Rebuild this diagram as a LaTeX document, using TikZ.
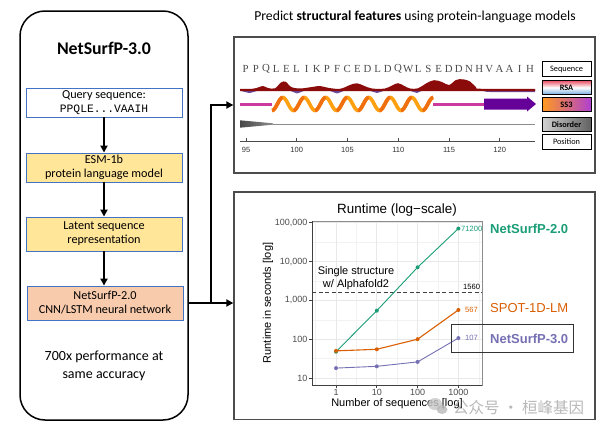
\documentclass[tikz,border=0pt]{standalone}
\usepackage{fontspec}
\setmainfont{Carlito}
\newfontfamily\arialf{Liberation Sans}
\newfontfamily\timesf{Liberation Serif}
\newfontfamily\monof{Liberation Mono}
\newfontfamily\cjkf{Noto Sans CJK SC}
\usetikzlibrary{arrows.meta}

\definecolor{boxblue}{HTML}{4472C4}
\definecolor{yell}{HTML}{FFE699}
\definecolor{salmon}{HTML}{F8CBAD}
\definecolor{cgreen}{HTML}{1B9E77}
\definecolor{corange}{HTML}{D95F02}
\definecolor{cpurple}{HTML}{7570B3}
\definecolor{rsared}{HTML}{8B0A0A}
\definecolor{rsapurp}{HTML}{6A4C9C}
\definecolor{magen}{HTML}{CC3A9E}
\definecolor{helixA}{HTML}{FFA010}
\definecolor{helixB}{HTML}{F07010}
\definecolor{strand}{HTML}{650099}
\definecolor{rsaTop}{HTML}{E8485E}
\definecolor{rsaBot}{HTML}{6FA8DC}
\definecolor{ssL}{HTML}{FF9A1F}
\definecolor{ssR}{HTML}{B040D0}

\begin{document}
\begin{tikzpicture}[x=1pt,y=-1pt,
  declare function={px(\e)=336+40.8*\e; py(\e)=416.8-38.8*\e; hy(\t)=104+6.5*cos(16.74419*(\t-272));},
  flowbox/.style={draw=boxblue, line width=0.9pt, minimum width=156pt, inner sep=0pt, align=center, font=\fontsize{12.2}{14}\selectfont},
  flowarrow/.style={line width=2pt, -{Triangle[length=7pt,width=7pt]}},
  connector/.style={line width=2pt, line cap=rect},
  conarrow/.style={line width=2pt, -{Triangle[length=7pt,width=7pt]}},
  panel/.style={draw=black!70, line width=1.3pt, inner sep=0pt},
  legbox/.style={draw=black, line width=0.8pt, minimum width=49pt, minimum height=14.5pt, inner sep=0pt, font=\fontsize{8.3}{9}\selectfont},
  seqlet/.style={font=\timesf\fontsize{10.8}{12}\selectfont, text=black!70, inner sep=0pt},
  poslab/.style={font=\arialf\fontsize{7.5}{8}\selectfont, text=black!80, inner sep=0pt},
  ticklab/.style={font=\arialf\fontsize{9}{10}\selectfont, text=black!70, inner sep=0pt},
  vallab/.style={font=\arialf\fontsize{7.6}{8}\selectfont, inner sep=0pt, anchor=west},
  serlab/.style={font=\arialf\fontsize{13}{15}\selectfont, inner sep=0pt, anchor=west},
  gridmaj/.style={black!9, line width=0.8pt},
  gridmin/.style={black!5, line width=0.5pt},
  dot/.style={circle, fill, inner sep=0pt, minimum size=4pt}
]
\useasboundingbox (0,0) rectangle (605,431);
\fill[white] (0,0) rectangle (605,431);

% ---------------- left pipeline ----------------
\node[draw, line width=1.5pt, rounded corners=25pt, minimum width=168pt, minimum height=409pt, inner sep=0pt] (outer) at (104,215.5) {};
\node[font=\bfseries\fontsize{17.8}{20}\selectfont] (title) at (104,48) {NetSurfP-3.0};
\node[flowbox, fill=white, minimum height=29pt] (q) at (104,102.5) {Query sequence:\\{\monof\fontsize{11.3}{13}\selectfont PPQLE...VAAIH}};
\node[flowbox, fill=yell, minimum height=29pt] (esm) at (104,167.5) {ESM-1b\\protein language model};
\node[flowbox, fill=yell, minimum height=34pt] (lat) at (104,234) {Latent sequence\\representation};
\node[flowbox, fill=salmon, minimum height=34pt] (nsp) at (105,303) {NetSurfP-2.0\\CNN/LSTM neural network};
\draw[flowarrow] (q.south) -- (esm.north);
\draw[flowarrow] (esm.south) -- (lat.north);
\draw[flowarrow] (lat.south) -- (lat.south |- nsp.north);
\node[align=center, font=\fontsize{14}{18}\selectfont] (perf) at (104,366) {700x performance at\\same accuracy};

% ---------------- panels ----------------
\node[font=\fontsize{13.7}{15}\selectfont] (toptitle) at (415,16.5) {Predict \textbf{structural features} using protein-language models};
\node[panel, minimum width=361pt, minimum height=136pt] (top) at (414.5,105) {};
\node[panel, minimum width=361pt, minimum height=227.5pt] (bot) at (414.5,305.75) {};

% connectors
\coordinate (j1) at (211,105);
\coordinate (j2) at (211,303);
\draw[connector] (nsp -| outer.east) -- (j2) -- (j1);
\draw[conarrow] (j1) -- (top.west |- j1);
\draw[conarrow] (j2) -- (bot.west |- j2);

% ---------------- top panel content ----------------
\foreach \c [count=\i from 0] in {P,P,Q,L,E,L,I,K,P,F,C,E,D,L,D,Q,W,L,S,E,D,D,N,H,V,A,A,I,H}
  \node[seqlet] (s\i) at ({245.7+10.15*\i},69) {\c};

% RSA
\fill[rsapurp] plot[smooth] coordinates {(240,90.5)(250,93)(260,90.5)(288,90.5)(297,93.5)(306,90.5)(328,90.5)(337,93.5)(346,90.5)(368,90.5)(377,93)(386,90.5)(408,90.5)(417,93)(426,90.5)(478,90.5)(490,92)(535,92)} -- (535,89) -- (240,89) -- cycle;
\fill[rsared] plot[smooth, tension=0.6] coordinates {(240,88.8)(252,88.8)(258,87.5)(263,86)(268,88)(275,88.3)(281,82.5)(286,81.8)(291,87)(300,88.5)(312,87)(320,86)(328,87.8)(340,88.8)(350,85)(357,83.3)(364,85.8)(372,88.5)(385,88.5)(392,85.5)(398,83.2)(404,85.8)(410,88.5)(418,88.3)(426,83.5)(434,80.2)(442,82)(449,85)(456,80)(463,79.3)(470,81.5)(476,87)(482,88.8)(535,88.8)} -- (535,91.2) -- (240,91.2) -- cycle;

% SS3
\draw[magen, line width=3pt] (240,104) -- (272,104);
\draw[magen, line width=3pt] (433,104) -- (484,104);
\draw[helixA, line width=3.6pt] plot[domain=272:433.25, samples=160, smooth] (\x,{hy(\x)});
\foreach \k in {0,...,7}{
  \pgfmathsetmacro\ha{272+21.5*\k}
  \pgfmathsetmacro\hb{\ha+10.75}
  \draw[helixB, line width=3.6pt] plot[domain=\ha:\hb, samples=15, smooth] (\x,{hy(\x)});
}
\fill[strand] (484,98.5) -- (527,98.5) -- (527,96.5) -- (536,104) -- (527,111.5) -- (527,109.5) -- (484,109.5) -- cycle;

% Disorder
\draw[black!45, line width=0.9pt] (273,124) -- (535,124);
\shade[left color=black!72, right color=black!45] (240,120.3) -- (273,123.3) -- (273,124.7) -- (240,127.7) -- cycle;

% Position
\draw[black!70, line width=1pt] (240,141) -- (535,141);
\foreach \n [count=\i from 0] in {95,100,105,110,115,120}{
  \draw[black!70, line width=1pt] ({246+50.75*\i},141) -- ++(0,-3.5);
  \node[poslab] (p\i) at ({246+50.75*\i},149.5) {\n};
}

% legend
\node[legbox, fill=white] (lseq) at (566.5,69) {Sequence};
\node[legbox, top color=rsaTop, bottom color=rsaBot, middle color=white] (lrsa) at (566.5,87.5) {\bfseries RSA};
\node[legbox, left color=ssL, right color=ssR] (lss) at (566.5,104.5) {\bfseries SS3};
\node[legbox, left color=black!18, right color=black!62] (ldis) at (566.5,124.5) {\bfseries Disorder};
\node[legbox, fill=white] (lpos) at (566.5,142) {Position};

% ---------------- chart ----------------
\foreach \e in {-0.5,0.5,1.5,2.5,3.5}
  \draw[gridmin] ({px(\e)},221) -- ({px(\e)},385);
\foreach \e in {1.5,2.5,3.5,4.5}
  \draw[gridmin] (312,{py(\e)}) -- (482,{py(\e)});
\foreach \e in {0,1,2,3}
  \draw[gridmaj] ({px(\e)},221) -- ({px(\e)},385);
\foreach \e in {1,2,3,4,5}
  \draw[gridmaj] (312,{py(\e)}) -- (482,{py(\e)});
\draw[black!45, line width=0.7pt] (312,221) rectangle (482,385);
\draw[black!75, line width=0.9pt] (312,221) -- (312,385) -- (482,385);

\foreach \e/\t [count=\i] in {1/10,2/100,3/{1,000},4/{10,000},5/{100,000}}{
  \draw[black!75, line width=0.8pt] (309,{py(\e)}) -- (312,{py(\e)});
  \node[ticklab, anchor=east] (yt\i) at (307.5,{py(\e)}) {\t};
}
\foreach \e/\t [count=\i] in {0/1,1/10,2/100,3/1000}{
  \draw[black!75, line width=0.8pt] ({px(\e)},385) -- ({px(\e)},388);
  \node[ticklab] (xt\i) at ({px(\e)},392) {\t};
}

\node[font=\arialf\fontsize{13.4}{15}\selectfont] (ctitle) at (397,210) {Runtime (log−scale)};
\node[rotate=90, font=\arialf\fontsize{11}{12}\selectfont] (ytitle) at (268,303) {Runtime in seconds [log]};
\node[font=\arialf\fontsize{11}{12}\selectfont] (xtitle) at (397,403.5) {Number of sequences [log]};

\draw[black!75, line width=1pt, dash pattern=on 4pt off 2.5pt] (312,{py(3.1931)}) -- (482,{py(3.1931)});
\node[vallab, text=black] (v1560) at (463,287) {1560};
\node[align=center, font=\arialf\fontsize{11}{13}\selectfont] (ss) at (356,278.5) {Single structure\\w/ Alphafold2};

% series (values given as log10)
\draw[cgreen, line width=0.9pt] ({px(0)},{py(1.6776)}) -- ({px(1)},{py(2.7348)}) -- ({px(2)},{py(3.8531)}) -- ({px(3)},{py(4.8525)});
\draw[corange, line width=1.1pt] ({px(0)},{py(1.6990)}) -- ({px(1)},{py(1.7404)}) -- ({px(2)},{py(2)}) -- ({px(3)},{py(2.7536)});
\draw[cpurple, line width=0.9pt] ({px(0)},{py(1.2553)}) -- ({px(1)},{py(1.3010)}) -- ({px(2)},{py(1.4150)}) -- ({px(3)},{py(2.0294)});
\foreach \n/\v in {0/1.6776,1/2.7348,2/3.8531,3/4.8525}
  \node[dot, fill=cgreen] (g\n) at ({px(\n)},{py(\v)}) {};
\foreach \n/\v in {0/1.6990,1/1.7404,2/2,3/2.7536}
  \node[dot, fill=corange] (o\n) at ({px(\n)},{py(\v)}) {};
\foreach \n/\v in {0/1.2553,1/1.3010,2/1.4150,3/2.0294}
  \node[dot, fill=cpurple] (u\n) at ({px(\n)},{py(\v)}) {};

\node[vallab, text=cgreen] (v2) at (461,229) {71200};
\node[vallab, text=corange] (v1d) at (465,309.5) {567};
\node[vallab, text=cpurple] (v3) at (465,338) {107};

\node[serlab, text=cgreen, font=\arialf\bfseries\fontsize{13}{15}\selectfont] (l2) at (490,228.5) {NetSurfP-2.0};
\node[serlab, text=corange] (l1d) at (490,308.5) {SPOT-1D-LM};
\node[draw=black!80, line width=1pt, minimum width=122pt, minimum height=28pt, inner sep=0pt] (l3box) at (512,338) {};
\node[serlab, text=cpurple, font=\arialf\bfseries\fontsize{13}{15}\selectfont] (l3) at (490,338.5) {NetSurfP-3.0};

% watermark
\fill[black!22, opacity=0.8] (435,404) ellipse (7pt and 6pt);
\fill[black!28, opacity=0.8] (442,409.5) ellipse (5.5pt and 4.5pt);
\node[font=\cjkf\fontsize{15.5}{16}\selectfont, text=black!28, anchor=west, inner sep=0pt] (wm) at (453,408) {公众号 · 桓峰基因};
\end{tikzpicture}
\end{document}
